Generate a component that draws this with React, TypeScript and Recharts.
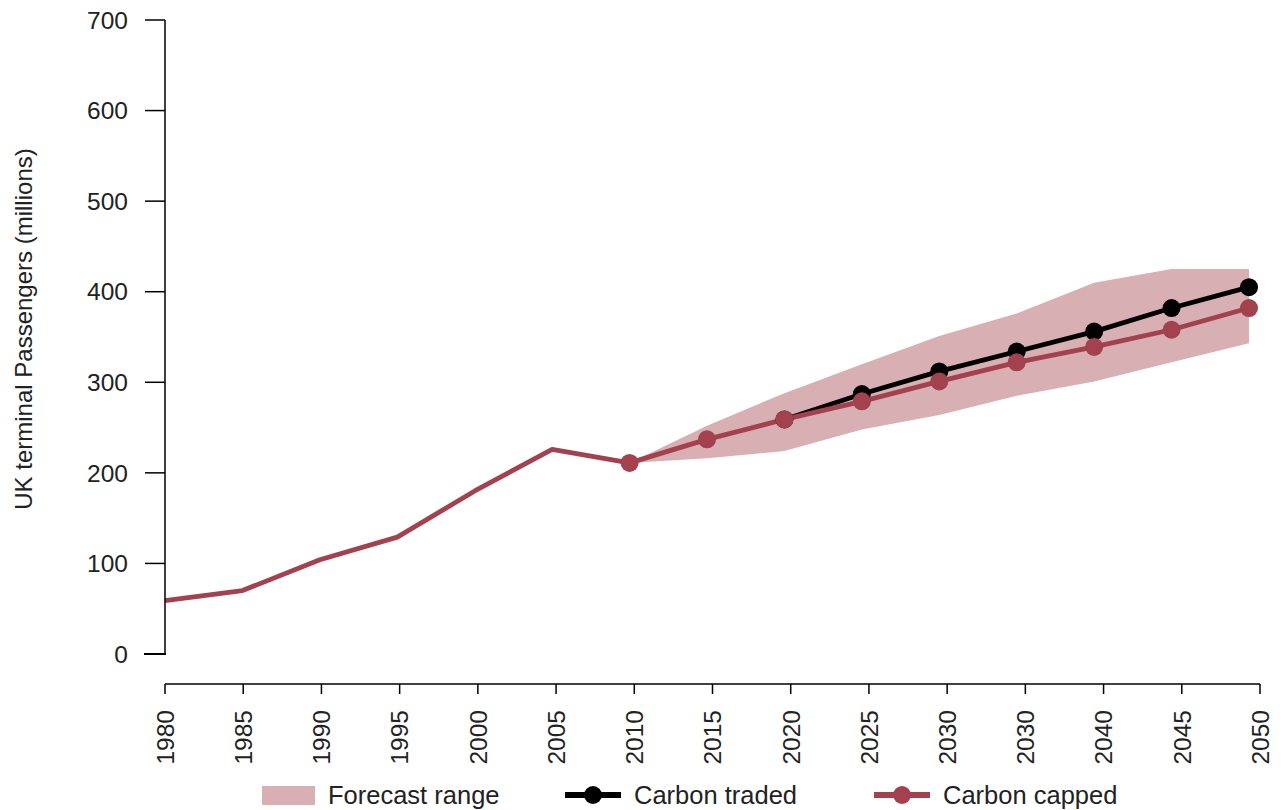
import React from "react";
import {
  ComposedChart,
  Area,
  Line,
  XAxis,
  YAxis,
  Legend,
} from "recharts";

// category labels (the source repeats 2030)
const years = ["1980", "1985", "1990", "1995", "2000", "2005", "2010", "2015", "2020", "2025", "2030", "2030", "2040", "2045", "2050"];
const carbonCapped = [59, 70, 104, 129, 180, 226, 211, 237, 259, 279, 301, 322, 339, 358, 382];
const carbonTraded = [null, null, null, null, null, null, null, null, 259, 287, 312, 334, 356, 382, 405];
const rangeLow = [null, null, null, null, null, null, 211, 216, 224, 248, 264, 285, 301, 322, 343];
const rangeHigh = [null, null, null, null, null, null, 211, 252, 288, 320, 351, 376, 410, 425, 425];
const yTicks = [0, 100, 200, 300, 400, 500, 600, 700];

const RED = "#a3414f";
const AREA = "#d8afb3";
const TEXT = "#222";
const FONT = "'Liberation Sans', Arial, sans-serif";

const data = years.map((year, i) => ({
  year,
  capped: carbonCapped[i],
  traded: carbonTraded[i],
  range: rangeLow[i] == null ? null : [rangeLow[i], rangeHigh[i]],
}));

const XTick = (props: any) => {
  const { x, y, payload } = props;
  return (
    <g transform={`translate(${x},${y})`}>
      <text transform="rotate(-90)" x={-14} dy="0.36em" textAnchor="end" fontSize={24.5} fill={TEXT} fontFamily={FONT}>
        {payload.value}
      </text>
    </g>
  );
};

// dots only on the forecast part of the capped line
const cappedDot = (props: any) => {
  const { cx, cy, index } = props;
  if (index < 6 || cx == null || cy == null) return <g key={`cd-${index}`} />;
  return <circle key={`cd-${index}`} cx={cx} cy={cy} r={9} fill={RED} />;
};

const renderLegend = () => (
  <div style={{ position: "relative", height: 30, fontFamily: FONT, fontSize: 25.5, color: TEXT }}>
    <div style={{ position: "absolute", left: 262, top: 0, height: 30, display: "flex", alignItems: "center" }}>
      <svg width={53} height={19}>
        <rect width={53} height={19} fill={AREA} />
      </svg>
      <span style={{ marginLeft: 13 }}>Forecast range</span>
    </div>
    <div style={{ position: "absolute", left: 565, top: 0, height: 30, display: "flex", alignItems: "center" }}>
      <svg width={56} height={20}>
        <line x1={0} y1={10} x2={56} y2={10} stroke="#000" strokeWidth={6} />
        <circle cx={28} cy={10} r={9} fill="#000" />
      </svg>
      <span style={{ marginLeft: 13 }}>Carbon traded</span>
    </div>
    <div style={{ position: "absolute", left: 874, top: 0, height: 30, display: "flex", alignItems: "center" }}>
      <svg width={56} height={20}>
        <line x1={0} y1={10} x2={56} y2={10} stroke={RED} strokeWidth={6} />
        <circle cx={28} cy={10} r={9} fill={RED} />
      </svg>
      <span style={{ marginLeft: 13 }}>Carbon capped</span>
    </div>
  </div>
);

export default function App() {
  return (
    <div style={{ position: "absolute", left: 0, top: 0, width: 1282, height: 810, background: "#fff" }}>
      <ComposedChart width={1282} height={810} data={data} margin={{ top: 20, right: 22, left: 0, bottom: 0 }}>
        <XAxis
          xAxisId="lab"
          dataKey="year"
          interval={0}
          height={126}
          tickSize={10}
          tick={<XTick />}
          axisLine={{ stroke: "#000", strokeWidth: 1.5 }}
          tickLine={{ stroke: "#000", strokeWidth: 1.5 }}
        />
        <XAxis xAxisId="dat" dataKey="year" hide padding={{ left: 0, right: 11 }} />
        <YAxis
          domain={[0, 700]}
          ticks={yTicks}
          width={165}
          tickSize={20}
          tickMargin={17}
          axisLine={{ stroke: "#000", strokeWidth: 1.5 }}
          tickLine={{ stroke: "#000", strokeWidth: 1.5 }}
          tick={{ fontSize: 24.5, fill: TEXT, fontFamily: FONT }}
          label={() => (
            <text
              x={32}
              y={329}
              transform="rotate(-90 32 329)"
              textAnchor="middle"
              fontSize={24}
              fill={TEXT}
              fontFamily={FONT}
            >
              UK terminal Passengers (millions)
            </text>
          )}
        />
        <Area
          xAxisId="dat"
          dataKey="range"
          stroke="none"
          fill={AREA}
          fillOpacity={1}
          isAnimationActive={false}
          activeDot={false}
        />
        <Line
          xAxisId="dat"
          dataKey="traded"
          stroke="#000"
          strokeWidth={4.8}
          dot={{ r: 9, fill: "#000", stroke: "#000", strokeWidth: 0 }}
          activeDot={false}
          isAnimationActive={false}
        />
        <Line
          xAxisId="dat"
          dataKey="capped"
          stroke={RED}
          strokeWidth={4.8}
          strokeLinejoin="round"
          dot={cappedDot}
          activeDot={false}
          isAnimationActive={false}
        />
        <Legend verticalAlign="bottom" height={30} content={renderLegend} wrapperStyle={{ left: 0, width: 1282, bottom: 0 }} />
      </ComposedChart>
      {/* x axis line runs a little past the y axis on the left */}
      <div style={{ position: "absolute", left: 144, top: 653.25, width: 22, height: 1.5, background: "#000" }} />
    </div>
  );
}
